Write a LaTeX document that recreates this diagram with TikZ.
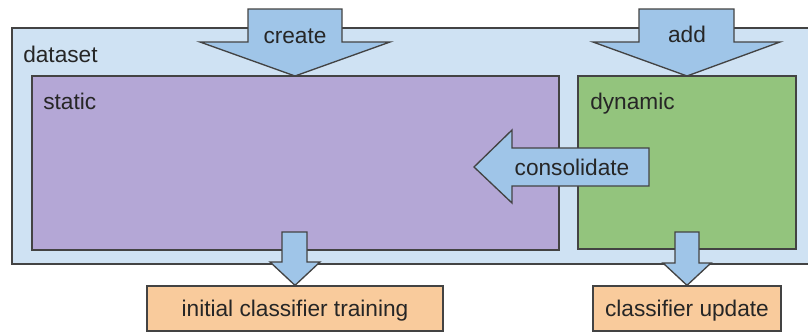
\documentclass[tikz,border=0pt]{standalone}
\usepackage{fontspec}
\setmainfont{Liberation Sans}

\definecolor{edge}{HTML}{434343}
\definecolor{dsblue}{HTML}{CFE2F3}
\definecolor{statpurple}{HTML}{B4A7D6}
\definecolor{dyngreen}{HTML}{93C47D}
\definecolor{arrowblue}{HTML}{9FC5E8}
\definecolor{outorange}{HTML}{F9CB9C}

\tikzset{
  frame/.style={draw=edge,line width=1pt},
  bigarrow/.style={frame,fill=arrowblue,line join=miter},
  lbl/.style={font=\fontsize{17}{20}\selectfont,inner sep=0pt,text=black!85},
  outbox/.style={frame,fill=outorange,font=\fontsize{17}{20}\selectfont,
    text=black!85,minimum height=33.75pt,inner sep=0pt,text depth=0pt,text height=12pt},
}

\begin{document}
\begin{tikzpicture}[x=0.75pt,y=-0.75pt]
      \useasboundingbox (0,0) rectangle (808,332);
      % containers
      \filldraw[frame,fill=dsblue] (12,28) rectangle (815,264);
      \node[lbl,anchor=base west] (dataset) at (23,62) {dataset};
      \filldraw[frame,fill=statpurple] (32,76) rectangle (559,250);
      \node[lbl,anchor=base west] (static) at (43,109) {static};
      \filldraw[frame,fill=dyngreen] (578,76) rectangle (796,249);
      \node[lbl,anchor=base west] (dynamic) at (590,109) {dynamic};
      % outputs
      \node[outbox,minimum width=222pt] (training) at (295,308.5) {initial classifier training};
      \node[outbox,minimum width=141pt] (update) at (687,308.5) {classifier update};
      % block arrows
      \filldraw[bigarrow] (248,9) -- (342,9) -- (342,42) -- (390,42) -- (295,76)
        -- (200,42) -- (248,42) -- cycle;
      \node[lbl,anchor=base] (create) at (295,43) {create};
      \filldraw[bigarrow] (639,9) -- (734,9) -- (734,42) -- (780,42) -- (687,76)
        -- (593,42) -- (639,42) -- cycle;
      \node[lbl,anchor=base] (add) at (687,42) {add};
      \filldraw[bigarrow] (649,148) -- (512,148) -- (512,130) -- (474,167)
        -- (512,203) -- (512,186) -- (649,186) -- cycle;
      \node[lbl,anchor=base] (consolidate) at (572,175) {consolidate};
      \filldraw[bigarrow] (282,232) -- (307,232) -- (307,262) -- (320,262)
        -- (training.north) -- (270,262) -- (282,262) -- cycle;
      \filldraw[bigarrow] (675,232) -- (699,232) -- (699,263) -- (711,263)
        -- (update.north) -- (663,263) -- (675,263) -- cycle;
\end{tikzpicture}
\end{document}
